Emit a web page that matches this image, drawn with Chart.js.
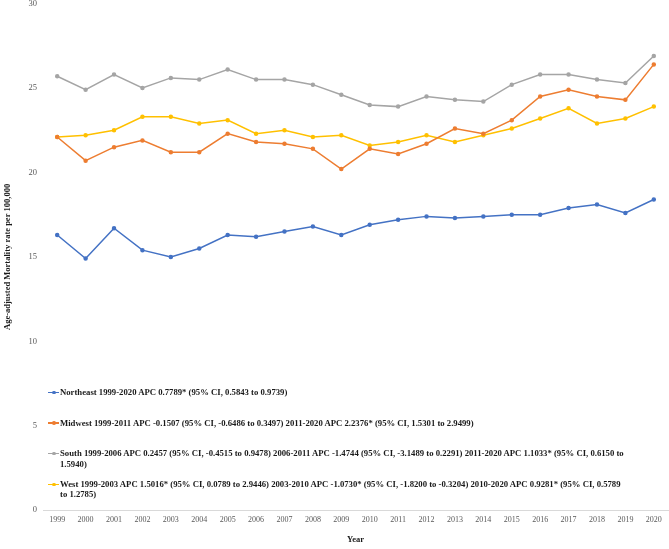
<!DOCTYPE html>
<html>
<head>
<meta charset="utf-8">
<script src="https://cdn.jsdelivr.net/npm/chart.js@4"></script>
<style>
  body { margin: 0; background: #fff; }
  #wrap { position: relative; width: 669px; height: 549px; }
  canvas { display: block; }
  #legend {
    position: absolute; left: 48px; top: 387px; width: 578px;
    font: bold 8.7px "Liberation Serif", "Times New Roman", serif; color: #1a1a1a;
  }
  .item { position: relative; padding-left: 12px; line-height: 10.3px; height: 30.7px; }
  .item .mk { position: absolute; left: 0; top: 4.5px; width: 11px; height: 1.5px; }
  .item .dot { position: absolute; left: 4px; top: 3.5px; width: 3.5px; height: 3.5px; border-radius: 50%; }
</style>
</head>
<body>
<div id="wrap">
  <canvas id="chart" width="669" height="549"></canvas>
  <div id="legend"></div>
</div>
<script>
const years = ["1999","2000","2001","2002","2003","2004","2005","2006","2007","2008","2009",
  "2010","2011","2012","2013","2014","2015","2016","2017","2018","2019","2020"];

const northeast = [16.3,14.9,16.7,15.4,15.0,15.5,16.3,16.2,16.5,16.8,16.3,16.9,17.2,17.4,17.3,17.4,17.5,17.5,17.9,18.1,17.6,18.4];
const midwest   = [22.1,20.7,21.5,21.9,21.2,21.2,22.3,21.8,21.7,21.4,20.2,21.4,21.1,21.7,22.6,22.3,23.1,24.5,24.9,24.5,24.3,26.4];
const south     = [25.7,24.9,25.8,25.0,25.6,25.5,26.1,25.5,25.5,25.2,24.6,24.0,23.9,24.5,24.3,24.2,25.2,25.8,25.8,25.5,25.3,26.9];
const west      = [22.1,22.2,22.5,23.3,23.3,22.9,23.1,22.3,22.5,22.1,22.2,21.6,21.8,22.2,21.8,22.2,22.6,23.2,23.8,22.9,23.2,23.9];

const seriesLabels = [
  "Northeast 1999-2020 APC 0.7789* (95% CI, 0.5843 to 0.9739)",
  "Midwest 1999-2011 APC -0.1507 (95% CI, -0.6486 to 0.3497) 2011-2020 APC 2.2376* (95% CI, 1.5301 to 2.9499)",
  "South 1999-2006 APC 0.2457 (95% CI, -0.4515 to 0.9478) 2006-2011 APC -1.4744 (95% CI, -3.1489 to 0.2291) 2011-2020 APC 1.1033* (95% CI, 0.6150 to 1.5940)",
  "West 1999-2003 APC 1.5016* (95% CI, 0.0789 to 2.9446) 2003-2010 APC -1.0730* (95% CI, -1.8200 to -0.3204) 2010-2020 APC 0.9281* (95% CI, 0.5789 to 1.2785)"
];
const colors = ["#4472C4", "#ED7D31", "#A5A5A5", "#FFC000"];
const yTicks = [0, 5, 10, 15, 20, 25, 30];

const serif = "'Liberation Serif', 'Times New Roman', serif";

function line(label, data, color) {
  return {
    label, data,
    borderColor: color, backgroundColor: color,
    borderWidth: 1.5, pointRadius: 1.5, pointHoverRadius: 3,
    tension: 0, fill: false
  };
}

// html legend, since the labels need to wrap
const htmlLegend = {
  id: "htmlLegend",
  afterUpdate(chart) {
    const box = document.getElementById("legend");
    box.innerHTML = "";
    chart.data.datasets.forEach(ds => {
      const item = document.createElement("div");
      item.className = "item";
      item.innerHTML = '<span class="mk" style="background:' + ds.borderColor + '"></span>' +
        '<span class="dot" style="background:' + ds.borderColor + '"></span>';
      item.appendChild(document.createTextNode(ds.label));
      box.appendChild(item);
    });
  }
};

new Chart(document.getElementById("chart"), {
  type: "line",
  data: {
    labels: years,
    datasets: [
      line(seriesLabels[0], northeast, colors[0]),
      line(seriesLabels[1], midwest, colors[1]),
      line(seriesLabels[2], south, colors[2]),
      line(seriesLabels[3], west, colors[3])
    ]
  },
  options: {
    responsive: false,
    animation: false,
    layout: { autoPadding: false, padding: { top: 0, right: 1, left: 0, bottom: 4 } },
    plugins: {
      legend: { display: false },
      tooltip: { enabled: true }
    },
    scales: {
      x: {
        offset: true,
        afterFit(axis) { axis.paddingLeft = 0; axis.paddingRight = 0; },
        grid: { display: false, drawTicks: false },
        border: { display: true, color: "#D9D9D9", width: 1 },
        ticks: { color: "#595959", font: { family: serif, size: 8 }, padding: 5, maxRotation: 0, autoSkip: false },
        title: { display: true, text: "Year", color: "#1a1a1a", font: { family: serif, size: 8.5, weight: "bold" }, padding: { top: 5, bottom: 0 } }
      },
      y: {
        min: 0, max: 30,
        afterBuildTicks(axis) { axis.ticks = yTicks.map(v => ({ value: v })); },
        afterFit(axis) { axis.width = 43; },
        grid: { display: false, tickLength: 6 },
        border: { display: false },
        ticks: { color: "#595959", font: { family: serif, size: 8.5, lineHeight: 0.85 }, padding: 0 },
        title: { display: true, text: "Age-adjusted Mortality rate per 100,000", color: "#1a1a1a", font: { family: serif, size: 8.5, weight: "bold" }, padding: { top: 3, bottom: 4 } }
      }
    }
  },
  plugins: [htmlLegend]
});
</script>
</body>
</html>
